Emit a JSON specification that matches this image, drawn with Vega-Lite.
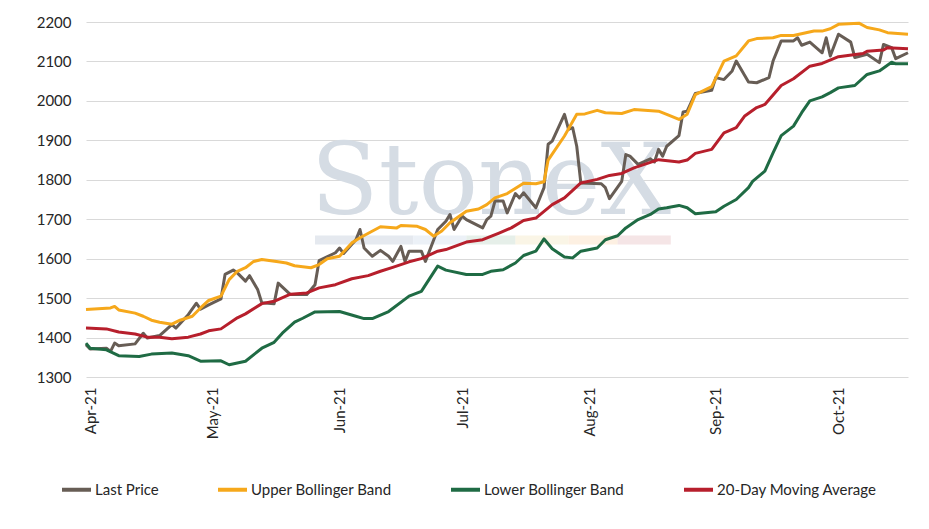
{
  "$schema": "https://vega.github.io/schema/vega-lite/v6.json",
  "width": 822,
  "height": 355,
  "autosize": {"type": "none"},
  "padding": {"left": 86, "top": 22, "right": 21, "bottom": 152},
  "config": {
    "view": {"stroke": null},
    "font": "Lato",
    "axisY": {"domain": false, "ticks": false, "gridColor": "#d9d9d9", "gridWidth": 1.2, "labelFontSize": 15, "labelColor": "#262626", "labelPadding": 15, "title": null},
    "axisX": {"domain": false, "ticks": false, "grid": false, "labelAngle": 270, "labelFontSize": 15, "labelColor": "#262626", "labelPadding": 10, "title": null}
  },
  "datasets": {
    "logo": [
      {"part": "word", "start": "2021-07-08", "lo": 1712, "label": "StoneX"}
    ],
    "strip": [
      {"part": "s1", "start": "2021-05-26", "end": "2021-06-19", "lo": 1636, "hi": 1659},
      {"part": "s2", "start": "2021-06-19", "end": "2021-07-02", "lo": 1636, "hi": 1659},
      {"part": "s3", "start": "2021-07-02", "end": "2021-07-14", "lo": 1636, "hi": 1659},
      {"part": "s4", "start": "2021-07-14", "end": "2021-07-27", "lo": 1636, "hi": 1659},
      {"part": "s5", "start": "2021-07-27", "end": "2021-08-08", "lo": 1636, "hi": 1659},
      {"part": "s6", "start": "2021-08-08", "end": "2021-08-21", "lo": 1636, "hi": 1659}
    ],
    "prices": [
      {"date": "2021-03-31", "series": "Last Price", "value": 1382},
      {"date": "2021-04-01", "series": "Last Price", "value": 1371},
      {"date": "2021-04-05", "series": "Last Price", "value": 1373},
      {"date": "2021-04-06", "series": "Last Price", "value": 1365},
      {"date": "2021-04-07", "series": "Last Price", "value": 1386},
      {"date": "2021-04-08", "series": "Last Price", "value": 1379},
      {"date": "2021-04-12", "series": "Last Price", "value": 1384},
      {"date": "2021-04-14", "series": "Last Price", "value": 1411},
      {"date": "2021-04-15", "series": "Last Price", "value": 1399},
      {"date": "2021-04-18", "series": "Last Price", "value": 1405},
      {"date": "2021-04-21", "series": "Last Price", "value": 1433},
      {"date": "2021-04-22", "series": "Last Price", "value": 1424},
      {"date": "2021-04-25", "series": "Last Price", "value": 1458},
      {"date": "2021-04-27", "series": "Last Price", "value": 1487},
      {"date": "2021-04-28", "series": "Last Price", "value": 1472},
      {"date": "2021-04-30", "series": "Last Price", "value": 1483},
      {"date": "2021-05-03", "series": "Last Price", "value": 1498},
      {"date": "2021-05-04", "series": "Last Price", "value": 1560},
      {"date": "2021-05-06", "series": "Last Price", "value": 1571},
      {"date": "2021-05-07", "series": "Last Price", "value": 1564},
      {"date": "2021-05-09", "series": "Last Price", "value": 1543},
      {"date": "2021-05-10", "series": "Last Price", "value": 1557},
      {"date": "2021-05-12", "series": "Last Price", "value": 1521},
      {"date": "2021-05-13", "series": "Last Price", "value": 1488},
      {"date": "2021-05-16", "series": "Last Price", "value": 1486},
      {"date": "2021-05-17", "series": "Last Price", "value": 1538},
      {"date": "2021-05-20", "series": "Last Price", "value": 1509},
      {"date": "2021-05-24", "series": "Last Price", "value": 1509},
      {"date": "2021-05-26", "series": "Last Price", "value": 1534},
      {"date": "2021-05-27", "series": "Last Price", "value": 1595},
      {"date": "2021-05-31", "series": "Last Price", "value": 1615},
      {"date": "2021-06-01", "series": "Last Price", "value": 1627},
      {"date": "2021-06-02", "series": "Last Price", "value": 1613},
      {"date": "2021-06-05", "series": "Last Price", "value": 1648},
      {"date": "2021-06-06", "series": "Last Price", "value": 1674},
      {"date": "2021-06-07", "series": "Last Price", "value": 1627},
      {"date": "2021-06-09", "series": "Last Price", "value": 1606},
      {"date": "2021-06-11", "series": "Last Price", "value": 1621},
      {"date": "2021-06-13", "series": "Last Price", "value": 1606},
      {"date": "2021-06-14", "series": "Last Price", "value": 1593},
      {"date": "2021-06-16", "series": "Last Price", "value": 1631},
      {"date": "2021-06-17", "series": "Last Price", "value": 1593},
      {"date": "2021-06-18", "series": "Last Price", "value": 1619},
      {"date": "2021-06-21", "series": "Last Price", "value": 1619},
      {"date": "2021-06-22", "series": "Last Price", "value": 1593},
      {"date": "2021-06-25", "series": "Last Price", "value": 1674},
      {"date": "2021-06-27", "series": "Last Price", "value": 1695},
      {"date": "2021-06-28", "series": "Last Price", "value": 1712},
      {"date": "2021-06-29", "series": "Last Price", "value": 1674},
      {"date": "2021-07-01", "series": "Last Price", "value": 1708},
      {"date": "2021-07-02", "series": "Last Price", "value": 1699},
      {"date": "2021-07-06", "series": "Last Price", "value": 1678},
      {"date": "2021-07-07", "series": "Last Price", "value": 1699},
      {"date": "2021-07-08", "series": "Last Price", "value": 1708},
      {"date": "2021-07-09", "series": "Last Price", "value": 1746},
      {"date": "2021-07-11", "series": "Last Price", "value": 1746},
      {"date": "2021-07-12", "series": "Last Price", "value": 1716},
      {"date": "2021-07-14", "series": "Last Price", "value": 1765},
      {"date": "2021-07-15", "series": "Last Price", "value": 1754},
      {"date": "2021-07-16", "series": "Last Price", "value": 1767},
      {"date": "2021-07-19", "series": "Last Price", "value": 1729},
      {"date": "2021-07-21", "series": "Last Price", "value": 1780},
      {"date": "2021-07-22", "series": "Last Price", "value": 1890},
      {"date": "2021-07-23", "series": "Last Price", "value": 1898},
      {"date": "2021-07-26", "series": "Last Price", "value": 1966},
      {"date": "2021-07-27", "series": "Last Price", "value": 1928},
      {"date": "2021-07-28", "series": "Last Price", "value": 1932},
      {"date": "2021-07-29", "series": "Last Price", "value": 1885},
      {"date": "2021-07-30", "series": "Last Price", "value": 1792},
      {"date": "2021-08-04", "series": "Last Price", "value": 1790},
      {"date": "2021-08-05", "series": "Last Price", "value": 1780},
      {"date": "2021-08-06", "series": "Last Price", "value": 1752},
      {"date": "2021-08-09", "series": "Last Price", "value": 1796},
      {"date": "2021-08-10", "series": "Last Price", "value": 1864},
      {"date": "2021-08-11", "series": "Last Price", "value": 1860},
      {"date": "2021-08-13", "series": "Last Price", "value": 1839},
      {"date": "2021-08-16", "series": "Last Price", "value": 1853},
      {"date": "2021-08-17", "series": "Last Price", "value": 1845},
      {"date": "2021-08-18", "series": "Last Price", "value": 1877},
      {"date": "2021-08-19", "series": "Last Price", "value": 1860},
      {"date": "2021-08-20", "series": "Last Price", "value": 1885},
      {"date": "2021-08-23", "series": "Last Price", "value": 1912},
      {"date": "2021-08-24", "series": "Last Price", "value": 1972},
      {"date": "2021-08-25", "series": "Last Price", "value": 1974},
      {"date": "2021-08-27", "series": "Last Price", "value": 2019},
      {"date": "2021-08-31", "series": "Last Price", "value": 2027},
      {"date": "2021-09-01", "series": "Last Price", "value": 2059},
      {"date": "2021-09-03", "series": "Last Price", "value": 2054},
      {"date": "2021-09-05", "series": "Last Price", "value": 2076},
      {"date": "2021-09-06", "series": "Last Price", "value": 2101},
      {"date": "2021-09-09", "series": "Last Price", "value": 2048},
      {"date": "2021-09-11", "series": "Last Price", "value": 2046},
      {"date": "2021-09-14", "series": "Last Price", "value": 2059},
      {"date": "2021-09-15", "series": "Last Price", "value": 2101},
      {"date": "2021-09-17", "series": "Last Price", "value": 2152},
      {"date": "2021-09-20", "series": "Last Price", "value": 2152},
      {"date": "2021-09-21", "series": "Last Price", "value": 2160},
      {"date": "2021-09-22", "series": "Last Price", "value": 2141},
      {"date": "2021-09-24", "series": "Last Price", "value": 2149},
      {"date": "2021-09-27", "series": "Last Price", "value": 2122},
      {"date": "2021-09-28", "series": "Last Price", "value": 2160},
      {"date": "2021-09-29", "series": "Last Price", "value": 2114},
      {"date": "2021-10-01", "series": "Last Price", "value": 2169},
      {"date": "2021-10-04", "series": "Last Price", "value": 2149},
      {"date": "2021-10-05", "series": "Last Price", "value": 2110},
      {"date": "2021-10-08", "series": "Last Price", "value": 2118},
      {"date": "2021-10-11", "series": "Last Price", "value": 2097},
      {"date": "2021-10-12", "series": "Last Price", "value": 2143},
      {"date": "2021-10-14", "series": "Last Price", "value": 2135},
      {"date": "2021-10-15", "series": "Last Price", "value": 2107},
      {"date": "2021-10-18", "series": "Last Price", "value": 2122},

      {"date": "2021-03-31", "series": "Upper Bollinger Band", "value": 1471},
      {"date": "2021-04-06", "series": "Upper Bollinger Band", "value": 1475},
      {"date": "2021-04-07", "series": "Upper Bollinger Band", "value": 1479},
      {"date": "2021-04-08", "series": "Upper Bollinger Band", "value": 1470},
      {"date": "2021-04-12", "series": "Upper Bollinger Band", "value": 1462},
      {"date": "2021-04-14", "series": "Upper Bollinger Band", "value": 1454},
      {"date": "2021-04-16", "series": "Upper Bollinger Band", "value": 1444},
      {"date": "2021-04-18", "series": "Upper Bollinger Band", "value": 1439},
      {"date": "2021-04-21", "series": "Upper Bollinger Band", "value": 1434},
      {"date": "2021-04-23", "series": "Upper Bollinger Band", "value": 1444},
      {"date": "2021-04-26", "series": "Upper Bollinger Band", "value": 1454},
      {"date": "2021-04-28", "series": "Upper Bollinger Band", "value": 1475},
      {"date": "2021-04-30", "series": "Upper Bollinger Band", "value": 1494},
      {"date": "2021-05-03", "series": "Upper Bollinger Band", "value": 1505},
      {"date": "2021-05-05", "series": "Upper Bollinger Band", "value": 1547},
      {"date": "2021-05-07", "series": "Upper Bollinger Band", "value": 1568},
      {"date": "2021-05-09", "series": "Upper Bollinger Band", "value": 1577},
      {"date": "2021-05-11", "series": "Upper Bollinger Band", "value": 1593},
      {"date": "2021-05-13", "series": "Upper Bollinger Band", "value": 1598},
      {"date": "2021-05-17", "series": "Upper Bollinger Band", "value": 1592},
      {"date": "2021-05-19", "series": "Upper Bollinger Band", "value": 1589},
      {"date": "2021-05-21", "series": "Upper Bollinger Band", "value": 1582},
      {"date": "2021-05-25", "series": "Upper Bollinger Band", "value": 1577},
      {"date": "2021-05-27", "series": "Upper Bollinger Band", "value": 1585},
      {"date": "2021-05-29", "series": "Upper Bollinger Band", "value": 1600},
      {"date": "2021-06-01", "series": "Upper Bollinger Band", "value": 1606},
      {"date": "2021-06-04", "series": "Upper Bollinger Band", "value": 1640},
      {"date": "2021-06-06", "series": "Upper Bollinger Band", "value": 1653},
      {"date": "2021-06-11", "series": "Upper Bollinger Band", "value": 1681},
      {"date": "2021-06-15", "series": "Upper Bollinger Band", "value": 1678},
      {"date": "2021-06-16", "series": "Upper Bollinger Band", "value": 1684},
      {"date": "2021-06-20", "series": "Upper Bollinger Band", "value": 1682},
      {"date": "2021-06-22", "series": "Upper Bollinger Band", "value": 1674},
      {"date": "2021-06-24", "series": "Upper Bollinger Band", "value": 1657},
      {"date": "2021-06-26", "series": "Upper Bollinger Band", "value": 1670},
      {"date": "2021-06-28", "series": "Upper Bollinger Band", "value": 1691},
      {"date": "2021-07-02", "series": "Upper Bollinger Band", "value": 1720},
      {"date": "2021-07-05", "series": "Upper Bollinger Band", "value": 1726},
      {"date": "2021-07-07", "series": "Upper Bollinger Band", "value": 1737},
      {"date": "2021-07-09", "series": "Upper Bollinger Band", "value": 1754},
      {"date": "2021-07-12", "series": "Upper Bollinger Band", "value": 1765},
      {"date": "2021-07-16", "series": "Upper Bollinger Band", "value": 1791},
      {"date": "2021-07-19", "series": "Upper Bollinger Band", "value": 1790},
      {"date": "2021-07-21", "series": "Upper Bollinger Band", "value": 1795},
      {"date": "2021-07-22", "series": "Upper Bollinger Band", "value": 1850},
      {"date": "2021-07-26", "series": "Upper Bollinger Band", "value": 1911},
      {"date": "2021-07-29", "series": "Upper Bollinger Band", "value": 1966},
      {"date": "2021-07-31", "series": "Upper Bollinger Band", "value": 1967},
      {"date": "2021-08-03", "series": "Upper Bollinger Band", "value": 1976},
      {"date": "2021-08-05", "series": "Upper Bollinger Band", "value": 1970},
      {"date": "2021-08-09", "series": "Upper Bollinger Band", "value": 1968},
      {"date": "2021-08-12", "series": "Upper Bollinger Band", "value": 1978},
      {"date": "2021-08-18", "series": "Upper Bollinger Band", "value": 1974},
      {"date": "2021-08-20", "series": "Upper Bollinger Band", "value": 1966},
      {"date": "2021-08-23", "series": "Upper Bollinger Band", "value": 1953},
      {"date": "2021-08-25", "series": "Upper Bollinger Band", "value": 1966},
      {"date": "2021-08-27", "series": "Upper Bollinger Band", "value": 2016},
      {"date": "2021-08-31", "series": "Upper Bollinger Band", "value": 2036},
      {"date": "2021-09-03", "series": "Upper Bollinger Band", "value": 2101},
      {"date": "2021-09-06", "series": "Upper Bollinger Band", "value": 2114},
      {"date": "2021-09-09", "series": "Upper Bollinger Band", "value": 2152},
      {"date": "2021-09-11", "series": "Upper Bollinger Band", "value": 2158},
      {"date": "2021-09-15", "series": "Upper Bollinger Band", "value": 2160},
      {"date": "2021-09-17", "series": "Upper Bollinger Band", "value": 2166},
      {"date": "2021-09-20", "series": "Upper Bollinger Band", "value": 2166},
      {"date": "2021-09-25", "series": "Upper Bollinger Band", "value": 2177},
      {"date": "2021-09-27", "series": "Upper Bollinger Band", "value": 2177},
      {"date": "2021-09-29", "series": "Upper Bollinger Band", "value": 2183},
      {"date": "2021-10-01", "series": "Upper Bollinger Band", "value": 2194},
      {"date": "2021-10-06", "series": "Upper Bollinger Band", "value": 2197},
      {"date": "2021-10-08", "series": "Upper Bollinger Band", "value": 2186},
      {"date": "2021-10-11", "series": "Upper Bollinger Band", "value": 2180},
      {"date": "2021-10-13", "series": "Upper Bollinger Band", "value": 2173},
      {"date": "2021-10-18", "series": "Upper Bollinger Band", "value": 2169},

      {"date": "2021-03-31", "series": "Lower Bollinger Band", "value": 1386},
      {"date": "2021-04-01", "series": "Lower Bollinger Band", "value": 1373},
      {"date": "2021-04-05", "series": "Lower Bollinger Band", "value": 1369},
      {"date": "2021-04-08", "series": "Lower Bollinger Band", "value": 1354},
      {"date": "2021-04-13", "series": "Lower Bollinger Band", "value": 1352},
      {"date": "2021-04-16", "series": "Lower Bollinger Band", "value": 1358},
      {"date": "2021-04-21", "series": "Lower Bollinger Band", "value": 1361},
      {"date": "2021-04-25", "series": "Lower Bollinger Band", "value": 1354},
      {"date": "2021-04-28", "series": "Lower Bollinger Band", "value": 1340},
      {"date": "2021-05-03", "series": "Lower Bollinger Band", "value": 1341},
      {"date": "2021-05-05", "series": "Lower Bollinger Band", "value": 1331},
      {"date": "2021-05-09", "series": "Lower Bollinger Band", "value": 1340},
      {"date": "2021-05-13", "series": "Lower Bollinger Band", "value": 1373},
      {"date": "2021-05-16", "series": "Lower Bollinger Band", "value": 1388},
      {"date": "2021-05-18", "series": "Lower Bollinger Band", "value": 1411},
      {"date": "2021-05-21", "series": "Lower Bollinger Band", "value": 1439},
      {"date": "2021-05-23", "series": "Lower Bollinger Band", "value": 1449},
      {"date": "2021-05-26", "series": "Lower Bollinger Band", "value": 1465},
      {"date": "2021-06-01", "series": "Lower Bollinger Band", "value": 1466},
      {"date": "2021-06-05", "series": "Lower Bollinger Band", "value": 1454},
      {"date": "2021-06-07", "series": "Lower Bollinger Band", "value": 1448},
      {"date": "2021-06-09", "series": "Lower Bollinger Band", "value": 1448},
      {"date": "2021-06-13", "series": "Lower Bollinger Band", "value": 1466},
      {"date": "2021-06-18", "series": "Lower Bollinger Band", "value": 1505},
      {"date": "2021-06-21", "series": "Lower Bollinger Band", "value": 1517},
      {"date": "2021-06-25", "series": "Lower Bollinger Band", "value": 1581},
      {"date": "2021-06-27", "series": "Lower Bollinger Band", "value": 1571},
      {"date": "2021-07-02", "series": "Lower Bollinger Band", "value": 1560},
      {"date": "2021-07-06", "series": "Lower Bollinger Band", "value": 1560},
      {"date": "2021-07-08", "series": "Lower Bollinger Band", "value": 1568},
      {"date": "2021-07-11", "series": "Lower Bollinger Band", "value": 1572},
      {"date": "2021-07-14", "series": "Lower Bollinger Band", "value": 1589},
      {"date": "2021-07-16", "series": "Lower Bollinger Band", "value": 1608},
      {"date": "2021-07-19", "series": "Lower Bollinger Band", "value": 1619},
      {"date": "2021-07-21", "series": "Lower Bollinger Band", "value": 1650},
      {"date": "2021-07-23", "series": "Lower Bollinger Band", "value": 1625},
      {"date": "2021-07-26", "series": "Lower Bollinger Band", "value": 1604},
      {"date": "2021-07-28", "series": "Lower Bollinger Band", "value": 1602},
      {"date": "2021-07-30", "series": "Lower Bollinger Band", "value": 1619},
      {"date": "2021-08-03", "series": "Lower Bollinger Band", "value": 1627},
      {"date": "2021-08-05", "series": "Lower Bollinger Band", "value": 1648},
      {"date": "2021-08-08", "series": "Lower Bollinger Band", "value": 1658},
      {"date": "2021-08-10", "series": "Lower Bollinger Band", "value": 1678},
      {"date": "2021-08-13", "series": "Lower Bollinger Band", "value": 1699},
      {"date": "2021-08-16", "series": "Lower Bollinger Band", "value": 1712},
      {"date": "2021-08-18", "series": "Lower Bollinger Band", "value": 1726},
      {"date": "2021-08-20", "series": "Lower Bollinger Band", "value": 1729},
      {"date": "2021-08-23", "series": "Lower Bollinger Band", "value": 1735},
      {"date": "2021-08-25", "series": "Lower Bollinger Band", "value": 1729},
      {"date": "2021-08-27", "series": "Lower Bollinger Band", "value": 1714},
      {"date": "2021-09-01", "series": "Lower Bollinger Band", "value": 1719},
      {"date": "2021-09-03", "series": "Lower Bollinger Band", "value": 1733},
      {"date": "2021-09-06", "series": "Lower Bollinger Band", "value": 1750},
      {"date": "2021-09-09", "series": "Lower Bollinger Band", "value": 1780},
      {"date": "2021-09-10", "series": "Lower Bollinger Band", "value": 1796},
      {"date": "2021-09-13", "series": "Lower Bollinger Band", "value": 1822},
      {"date": "2021-09-15", "series": "Lower Bollinger Band", "value": 1868},
      {"date": "2021-09-17", "series": "Lower Bollinger Band", "value": 1912},
      {"date": "2021-09-20", "series": "Lower Bollinger Band", "value": 1936},
      {"date": "2021-09-22", "series": "Lower Bollinger Band", "value": 1970},
      {"date": "2021-09-24", "series": "Lower Bollinger Band", "value": 2000},
      {"date": "2021-09-27", "series": "Lower Bollinger Band", "value": 2010},
      {"date": "2021-09-29", "series": "Lower Bollinger Band", "value": 2021},
      {"date": "2021-10-01", "series": "Lower Bollinger Band", "value": 2033},
      {"date": "2021-10-05", "series": "Lower Bollinger Band", "value": 2039},
      {"date": "2021-10-08", "series": "Lower Bollinger Band", "value": 2067},
      {"date": "2021-10-11", "series": "Lower Bollinger Band", "value": 2076},
      {"date": "2021-10-14", "series": "Lower Bollinger Band", "value": 2098},
      {"date": "2021-10-15", "series": "Lower Bollinger Band", "value": 2094},
      {"date": "2021-10-18", "series": "Lower Bollinger Band", "value": 2094},

      {"date": "2021-03-31", "series": "20-Day Moving Average", "value": 1424},
      {"date": "2021-04-05", "series": "20-Day Moving Average", "value": 1422},
      {"date": "2021-04-08", "series": "20-Day Moving Average", "value": 1414},
      {"date": "2021-04-12", "series": "20-Day Moving Average", "value": 1409},
      {"date": "2021-04-15", "series": "20-Day Moving Average", "value": 1401},
      {"date": "2021-04-18", "series": "20-Day Moving Average", "value": 1401},
      {"date": "2021-04-21", "series": "20-Day Moving Average", "value": 1397},
      {"date": "2021-04-25", "series": "20-Day Moving Average", "value": 1401},
      {"date": "2021-04-28", "series": "20-Day Moving Average", "value": 1409},
      {"date": "2021-04-30", "series": "20-Day Moving Average", "value": 1417},
      {"date": "2021-05-03", "series": "20-Day Moving Average", "value": 1422},
      {"date": "2021-05-07", "series": "20-Day Moving Average", "value": 1450},
      {"date": "2021-05-09", "series": "20-Day Moving Average", "value": 1460},
      {"date": "2021-05-13", "series": "20-Day Moving Average", "value": 1486},
      {"date": "2021-05-16", "series": "20-Day Moving Average", "value": 1492},
      {"date": "2021-05-20", "series": "20-Day Moving Average", "value": 1510},
      {"date": "2021-05-24", "series": "20-Day Moving Average", "value": 1513},
      {"date": "2021-05-27", "series": "20-Day Moving Average", "value": 1526},
      {"date": "2021-05-31", "series": "20-Day Moving Average", "value": 1534},
      {"date": "2021-06-04", "series": "20-Day Moving Average", "value": 1549},
      {"date": "2021-06-08", "series": "20-Day Moving Average", "value": 1557},
      {"date": "2021-06-11", "series": "20-Day Moving Average", "value": 1568},
      {"date": "2021-06-14", "series": "20-Day Moving Average", "value": 1578},
      {"date": "2021-06-18", "series": "20-Day Moving Average", "value": 1592},
      {"date": "2021-06-21", "series": "20-Day Moving Average", "value": 1600},
      {"date": "2021-06-25", "series": "20-Day Moving Average", "value": 1619},
      {"date": "2021-06-27", "series": "20-Day Moving Average", "value": 1623},
      {"date": "2021-07-02", "series": "20-Day Moving Average", "value": 1642},
      {"date": "2021-07-06", "series": "20-Day Moving Average", "value": 1648},
      {"date": "2021-07-10", "series": "20-Day Moving Average", "value": 1665},
      {"date": "2021-07-13", "series": "20-Day Moving Average", "value": 1678},
      {"date": "2021-07-16", "series": "20-Day Moving Average", "value": 1697},
      {"date": "2021-07-19", "series": "20-Day Moving Average", "value": 1703},
      {"date": "2021-07-23", "series": "20-Day Moving Average", "value": 1737},
      {"date": "2021-07-26", "series": "20-Day Moving Average", "value": 1754},
      {"date": "2021-07-30", "series": "20-Day Moving Average", "value": 1792},
      {"date": "2021-08-03", "series": "20-Day Moving Average", "value": 1801},
      {"date": "2021-08-06", "series": "20-Day Moving Average", "value": 1811},
      {"date": "2021-08-09", "series": "20-Day Moving Average", "value": 1816},
      {"date": "2021-08-12", "series": "20-Day Moving Average", "value": 1830},
      {"date": "2021-08-18", "series": "20-Day Moving Average", "value": 1851},
      {"date": "2021-08-23", "series": "20-Day Moving Average", "value": 1845},
      {"date": "2021-08-25", "series": "20-Day Moving Average", "value": 1850},
      {"date": "2021-08-27", "series": "20-Day Moving Average", "value": 1867},
      {"date": "2021-08-31", "series": "20-Day Moving Average", "value": 1877},
      {"date": "2021-09-03", "series": "20-Day Moving Average", "value": 1919},
      {"date": "2021-09-06", "series": "20-Day Moving Average", "value": 1932},
      {"date": "2021-09-08", "series": "20-Day Moving Average", "value": 1961},
      {"date": "2021-09-11", "series": "20-Day Moving Average", "value": 1983},
      {"date": "2021-09-13", "series": "20-Day Moving Average", "value": 1991},
      {"date": "2021-09-17", "series": "20-Day Moving Average", "value": 2039},
      {"date": "2021-09-20", "series": "20-Day Moving Average", "value": 2056},
      {"date": "2021-09-24", "series": "20-Day Moving Average", "value": 2088},
      {"date": "2021-09-27", "series": "20-Day Moving Average", "value": 2095},
      {"date": "2021-10-01", "series": "20-Day Moving Average", "value": 2112},
      {"date": "2021-10-07", "series": "20-Day Moving Average", "value": 2120},
      {"date": "2021-10-08", "series": "20-Day Moving Average", "value": 2126},
      {"date": "2021-10-12", "series": "20-Day Moving Average", "value": 2129},
      {"date": "2021-10-13", "series": "20-Day Moving Average", "value": 2135},
      {"date": "2021-10-18", "series": "20-Day Moving Average", "value": 2132}
    ]
  },
  "layer": [
    {
      "data": {"name": "strip"},
      "mark": {"type": "rect", "opacity": 0.6},
      "encoding": {
        "x": {
          "field": "start", "type": "temporal",
          "scale": {"type": "utc", "domain": [{"year": 2021, "month": 3, "date": 31, "utc": true}, {"year": 2021, "month": 10, "date": 18, "utc": true}]},
          "axis": {"format": "%b-%y", "tickCount": "month"}
        },
        "x2": {"field": "end"},
        "y": {
          "field": "lo", "type": "quantitative",
          "scale": {"domain": [1300, 2200], "nice": false, "zero": false},
          "axis": {"format": "d", "tickCount": 12, "values": [1300, 1400, 1500, 1600, 1700, 1800, 1900, 2000, 2100, 2200]}
        },
        "y2": {"field": "hi"},
        "color": {
          "field": "part", "type": "nominal", "legend": null,
          "scale": {"domain": ["s1", "s2", "s3", "s4", "s5", "s6"], "range": ["#d3dbe4", "#dfe8f2", "#d6e4da", "#f7efd5", "#fbe6cf", "#efd3d5"]}
        }
      }
    },
    {
      "data": {"name": "logo"},
      "mark": {"type": "text", "font": "DejaVu Serif", "fontSize": 99, "color": "#d5dce4", "align": "center", "baseline": "alphabetic"},
      "encoding": {
        "x": {"field": "start", "type": "temporal"},
        "y": {"field": "lo", "type": "quantitative"},
        "text": {"field": "label"}
      }
    },
    {
      "data": {"name": "prices"},
      "mark": {"type": "line", "strokeWidth": 3, "strokeJoin": "round"},
      "encoding": {
        "x": {"field": "date", "type": "temporal"},
        "y": {"field": "value", "type": "quantitative"},
        "color": {
          "field": "series", "type": "nominal",
          "scale": {"domain": ["Last Price", "Upper Bollinger Band", "Lower Bollinger Band", "20-Day Moving Average"], "range": ["#675d55", "#f6a81b", "#1f6b44", "#b71f2c"]},
          "legend": {
            "title": null, "orient": "none", "direction": "horizontal", "columns": 4,
            "legendX": -26, "legendY": 451,
            "symbolType": "stroke", "symbolSize": 841, "symbolStrokeWidth": 4,
            "labelFontSize": 15, "labelColor": "#262626", "labelOffset": 2, "columnPadding": 51,
            "labelLimit": 300
          }
        }
      }
    }
  ],
  "resolve": {"scale": {"color": "independent"}}
}
